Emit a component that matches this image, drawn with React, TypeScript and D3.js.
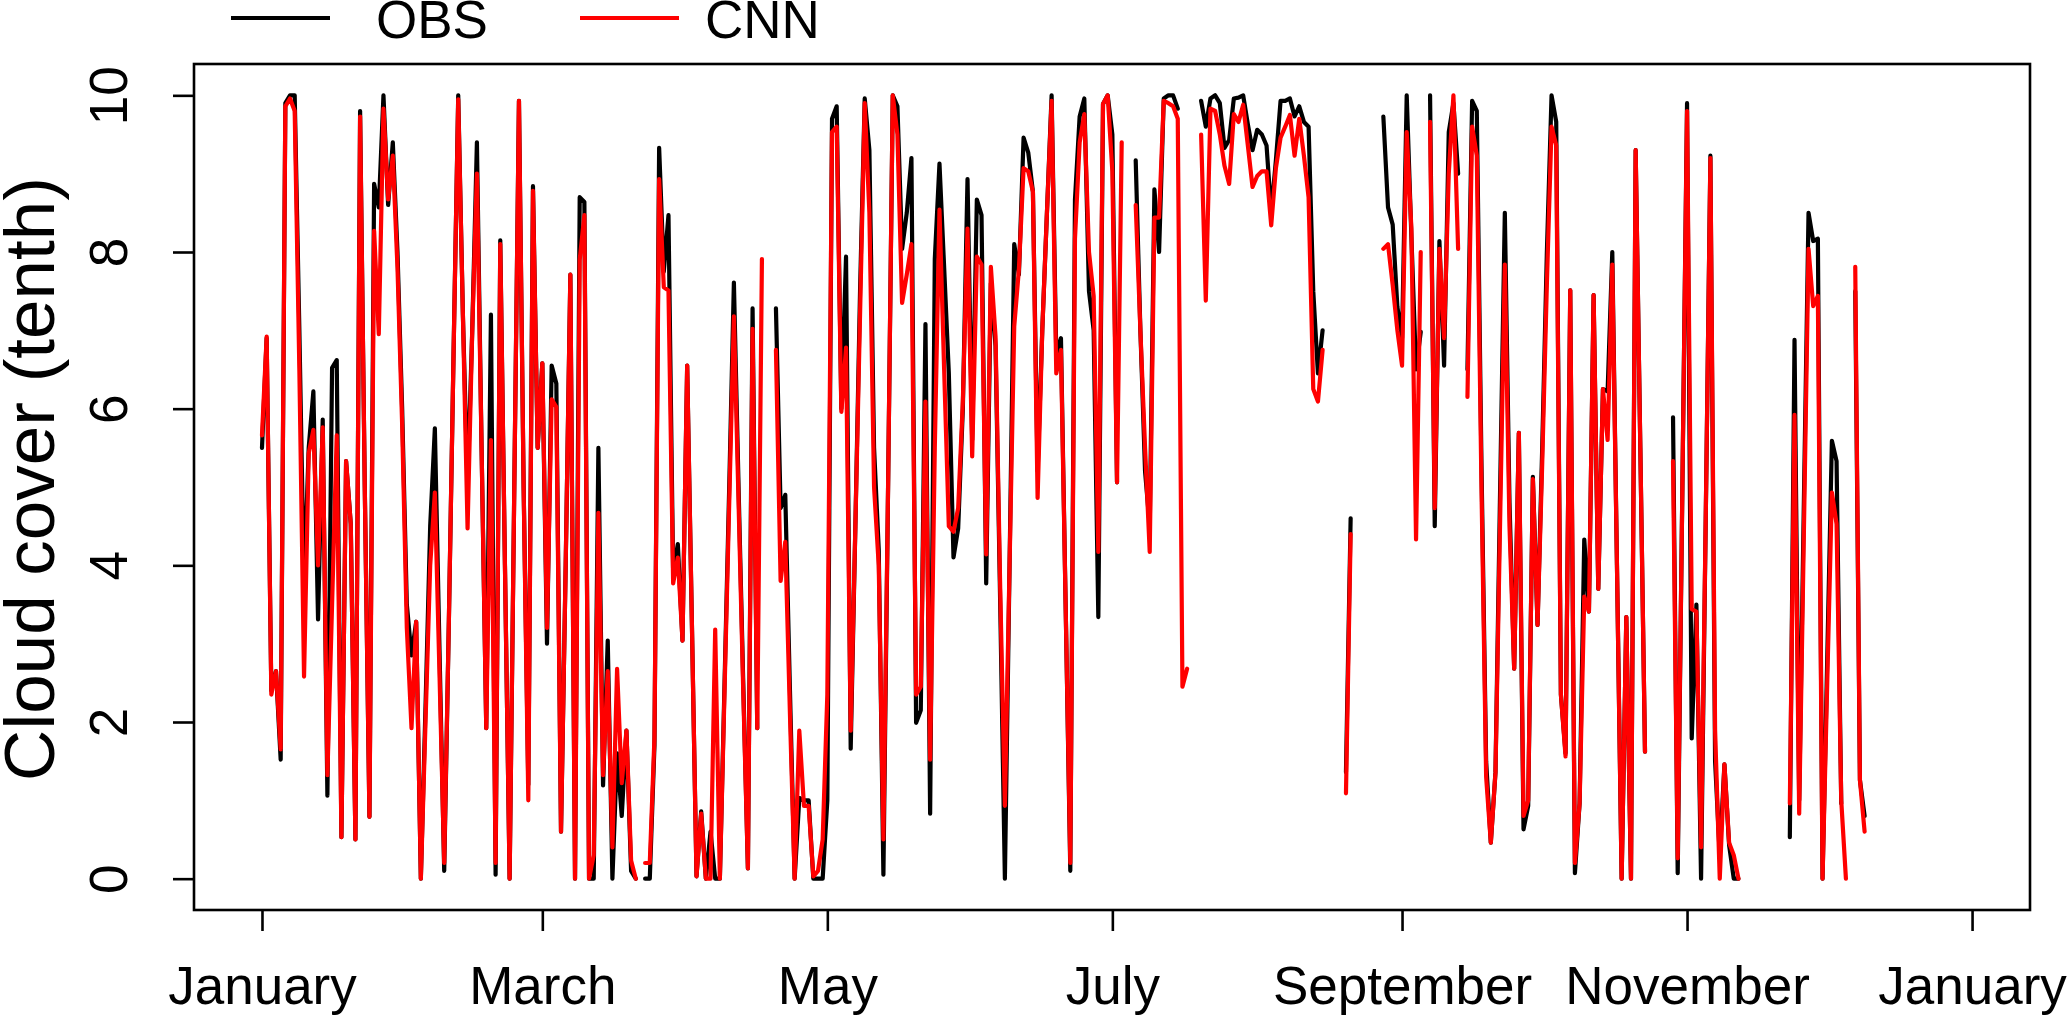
import { useEffect, useRef } from 'react';
import * as d3 from 'd3';

const DAY = 86400000;
const firstDay = Date.UTC(2016, 0, 1);

// daily cloud cover (tenths) from 1 January, null = missing day
const obs = [
  5.5, 6.9, 2.4, 2.65, 1.52, 9.9, 10, 10, 7.0, 3.7,
  5.5, 6.22, 3.31, 5.86, 1.06, 6.52, 6.62, 0.53, 5.33, 4.53,
  0.5, 9.8, 5.0, 0.79, 8.87, 8.57, 10, 8.6, 9.4, 8.0,
  6.0, 3.5, 2.85, 3.28, 0, 2.2, 4.5, 5.75, 2.9, 0.1,
  3.3, 6.7, 10, 7.2, 5.0, 7.0, 9.4, 5.5, 1.92, 7.2,
  0.05, 8.15, 4.0, 0, 5.0, 9.93, 5.0, 1.2, 8.84, 5.5,
  6.58, 3.0, 6.55, 6.32, 0.6, 4.0, 7.71, 0, 8.7, 8.64,
  0, 0, 5.5, 1.19, 3.04, 0, 1.6, 0.8, 1.89, 0.1,
  0, null, 0, 0, 1.7, 9.33, 7.75, 8.47, 3.9, 4.27,
  3.04, 6.55, 3.3, 0.03, 0.86, 0, 0.6, 0, 0, 2.5,
  5.0, 7.61, 5.0, 2.5, 0.13, 7.28, 1.92, null, null, null,
  7.28, 4.73, 4.9, 2.4, 0, 1.03, 1.0, 1.0, 0, 0,
  0, 1.0, 9.7, 9.86, 6.0, 7.94, 1.66, 4.5, 7.5, 9.96,
  9.3, 5.5, 4.2, 0.05, 5.0, 10, 9.86, 8.04, 8.5, 9.2,
  1.99, 2.15, 7.08, 0.83, 7.91, 9.13, 7.8, 6.45, 4.1, 4.47,
  6.0, 8.93, 5.6, 8.67, 8.47, 3.77, 7.6, 6.8, 3.5, 0,
  4.0, 8.1, 7.71, 9.46, 9.27, 8.77, 5.2, 7.0, 8.5, 10,
  6.7, 6.9, 3.5, 0.1, 8.67, 9.73, 9.96, 7.5, 7.0, 3.34,
  9.89, 10, 9.5, 5.06, null, null, null, 9.17, 7.0, 5.2,
  4.5, 8.8, 8.0, 9.96, 10, 10, 9.83, null, null, null,
  null, 9.93, 9.6, 9.96, 10, 9.9, 9.33, 9.43, 9.96, 9.97,
  10, 9.63, 9.3, 9.56, 9.5, 9.36, 8.5, 9.17, 9.93, 9.93,
  9.96, 9.73, 9.86, 9.66, 9.6, 7.5, 6.45, 7.0, null, null,
  null, null, 1.36, 4.6, null, null, null, null, null, null,
  9.73, 8.57, 8.35, 7.3, 6.9, 10, 8.2, 6.5, 6.98, null,
  10, 4.5, 8.14, 6.55, 9.53, 9.9, 9.0, null, 6.5, 9.93,
  9.8, 5.3, 1.5, 0.46, 1.36, 5.0, 8.5, 4.8, 2.68, 5.69,
  0.63, 0.93, 5.13, 3.24, 5.5, 8.0, 10, 9.66, 2.35, 1.6,
  7.51, 0.07, 0.96, 4.33, 3.41, 7.45, 3.7, 6.25, 6.22, 8.0,
  4.0, 0, 3.34, 0, 9.3, 5.5, 1.62, null, null, null,
  null, null, 5.89, 0.07, 5.0, 9.9, 1.79, 3.5, 0, 4.6,
  9.23, 1.5, 0.3, 1.46, 0.43, 0, 0, null, null, null,
  null, null, null, null, null, null, null, 0.53, 6.88, 1.0,
  4.8, 8.5, 8.14, 8.17, 0, 2.8, 5.59, 5.33, 0.96, null,
  null, 7.5, 1.26, 0.8,
];

const cnn = [
  5.66, 6.92, 2.35, 2.65, 1.65, 9.86, 9.96, 9.8, 6.5, 2.58,
  5.43, 5.73, 4.0, 5.76, 1.32, 3.5, 5.66, 0.53, 5.33, 4.53,
  0.5, 9.73, 5.0, 0.79, 8.27, 6.95, 9.83, 8.67, 9.23, 7.8,
  5.8, 3.2, 1.92, 3.28, 0, 2.0, 4.0, 4.93, 2.6, 0.2,
  3.3, 6.7, 9.95, 7.2, 4.47, 7.0, 9.0, 5.5, 1.92, 5.6,
  0.2, 8.1, 4.0, 0, 5.0, 9.93, 5.0, 1.0, 8.78, 5.5,
  6.58, 3.2, 6.12, 6.02, 0.6, 4.0, 7.71, 0, 7.9, 8.47,
  0, 0.3, 4.67, 1.32, 2.65, 0.4, 2.68, 1.22, 1.89, 0.23,
  0, null, 0.2, 0.2, 1.8, 8.93, 7.55, 7.51, 3.77, 4.1,
  3.04, 6.55, 3.3, 0.03, 0.83, 0, 0, 3.18, 0, 2.4,
  4.8, 7.18, 4.8, 2.4, 0.13, 7.02, 1.92, 7.91, null, null,
  6.75, 3.8, 4.3, 2.1, 0, 1.89, 0.93, 0.93, 0.03, 0.1,
  0.5, 2.35, 9.53, 9.6, 5.96, 6.78, 1.89, 4.5, 7.2, 9.9,
  8.5, 5.0, 4.0, 0.5, 5.0, 10, 9.5, 7.35, 7.71, 8.1,
  2.35, 2.45, 6.09, 1.52, 5.5, 8.54, 6.5, 4.5, 4.43, 4.73,
  6.09, 8.3, 5.39, 7.94, 7.84, 4.14, 7.81, 6.92, 3.7, 0.93,
  4.0, 7.05, 7.78, 9.07, 9.03, 8.77, 4.86, 7.0, 8.5, 9.93,
  6.45, 6.75, 3.5, 0.2, 8.17, 9.4, 9.76, 8.0, 7.44, 4.17,
  9.89, 10, 9.03, 5.06, 9.4, null, null, 8.6, 7.0, 5.5,
  4.17, 8.44, 8.44, 9.93, 9.9, 9.86, 9.7, 2.45, 2.68, null,
  null, 9.5, 7.38, 9.83, 9.8, 9.5, 9.1, 8.87, 9.76, 9.66,
  9.88, 9.36, 8.83, 8.97, 9.03, 9.03, 8.34, 9.07, 9.46, 9.6,
  9.75, 9.23, 9.7, 9.23, 8.7, 6.25, 6.09, 6.75, null, null,
  null, null, 1.09, 4.4, null, null, null, null, null, null,
  8.04, 8.1, 7.58, 7.0, 6.55, 9.53, 8.3, 4.33, 8.0, null,
  9.66, 4.73, 8.04, 6.9, 9.0, 10, 8.04, null, 6.15, 9.6,
  9.23, 5.0, 1.3, 0.46, 1.36, 4.6, 7.84, 4.5, 2.68, 5.69,
  0.8, 1.0, 5.1, 3.24, 5.3, 7.6, 9.6, 9.36, 2.35, 1.56,
  7.51, 0.2, 0.96, 3.6, 3.41, 7.45, 3.7, 6.25, 5.6, 7.84,
  4.0, 0, 3.34, 0, 9.3, 5.5, 1.62, null, null, null,
  null, null, 5.33, 0.26, 5.0, 9.8, 3.44, 3.41, 0.4, 4.6,
  9.2, 1.9, 0, 1.46, 0.46, 0.3, 0, null, null, null,
  null, null, null, null, null, null, null, 0.96, 5.92, 0.83,
  4.4, 8.04, 7.31, 7.44, 0, 2.5, 4.93, 4.53, 1.0, 0,
  null, 7.81, 1.26, 0.6,
];

const seriesNames = ['OBS', 'CNN'];
const seriesColors = ['#000000', '#ff0000'];
const yTicks = [0, 2, 4, 6, 8, 10];
const yTitle = 'Cloud cover (tenth)';

const FONT = '"Liberation Sans", Arial, Helvetica, sans-serif';

export default function App() {
  const svgRef = useRef<SVGSVGElement>(null);

  useEffect(() => {
    const svg = d3.select(svgRef.current);
    svg.selectAll('*').remove();

    const box = { left: 194, right: 2030, top: 64, bottom: 910 };

    // R-style 4% padding around the plotted year
    const x = d3.scaleUtc()
      .domain([new Date(firstDay - 14.55 * DAY), new Date(firstDay + 378.4 * DAY)])
      .range([box.left, box.right]);

    const y = d3.scaleLinear()
      .domain([-0.4, 10.4])
      .range([box.bottom, box.top]);

    const dates = obs.map((_, i) => new Date(firstDay + i * DAY));

    const line = d3.line<number | null>()
      .defined(d => d != null)
      .x((_, i) => x(dates[i]))
      .y(d => y(d as number));

    [obs, cnn].forEach((series, k) => {
      svg.append('path')
        .datum(series)
        .attr('d', line)
        .attr('fill', 'none')
        .attr('stroke', seriesColors[k])
        .attr('stroke-width', 4.2)
        .attr('stroke-linejoin', 'round')
        .attr('stroke-linecap', 'round');
    });

    svg.append('rect')
      .attr('x', box.left)
      .attr('y', box.top)
      .attr('width', box.right - box.left)
      .attr('height', box.bottom - box.top)
      .attr('fill', 'none')
      .attr('stroke', '#000')
      .attr('stroke-width', 2.6);

    const xAxis = d3.axisBottom(x)
      .tickValues(x.ticks(d3.utcMonth.every(2)!))
      .tickFormat(d => d3.utcFormat('%B')(d as Date))
      .tickSize(21)
      .tickSizeOuter(0);

    const gx = svg.append('g')
      .attr('transform', `translate(0,${box.bottom})`)
      .call(xAxis);
    gx.select('.domain').remove();
    gx.selectAll('line').attr('stroke', '#000').attr('stroke-width', 2.6);
    gx.selectAll('text')
      .attr('y', 94)
      .attr('dy', null)
      .attr('fill', '#000')
      .style('font-family', FONT)
      .style('font-size', '53px');

    const yAxis = d3.axisLeft(y)
      .tickValues(yTicks)
      .tickFormat(d => String(d))
      .tickSize(21)
      .tickSizeOuter(0);

    const gy = svg.append('g')
      .attr('transform', `translate(${box.left},0)`)
      .call(yAxis);
    gy.select('.domain').remove();
    gy.selectAll('line').attr('stroke', '#000').attr('stroke-width', 2.6);
    gy.selectAll('text')
      .attr('x', null)
      .attr('dy', null)
      .attr('text-anchor', 'middle')
      .attr('transform', `translate(${127 - box.left},0) rotate(-90)`)
      .attr('fill', '#000')
      .style('font-family', FONT)
      .style('font-size', '53px');

    svg.append('text')
      .attr('transform', `translate(54,${(box.top + box.bottom) / 2 - 8}) rotate(-90)`)
      .attr('text-anchor', 'middle')
      .style('font-family', FONT)
      .style('font-size', '71px')
      .text(yTitle);

    // legend above the plot, top left
    const legendLineX = [231, 580];
    const legendTextX = [376, 705];
    seriesNames.forEach((name, k) => {
      svg.append('line')
        .attr('x1', legendLineX[k])
        .attr('x2', legendLineX[k] + 99)
        .attr('y1', 18)
        .attr('y2', 18)
        .attr('stroke', seriesColors[k])
        .attr('stroke-width', 4.2);
      svg.append('text')
        .attr('x', legendTextX[k])
        .attr('y', 38)
        .style('font-family', FONT)
        .style('font-size', '53px')
        .text(name);
    });
  }, []);

  return (
    <svg
      ref={svgRef}
      width={2067}
      height={1019}
      style={{ position: 'absolute', left: 0, top: 0, background: '#fff' }}
    />
  );
}
